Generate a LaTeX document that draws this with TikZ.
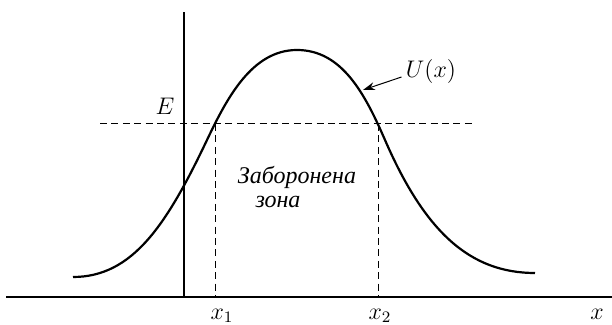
\documentclass[tikz,border=0pt]{standalone}
\usepackage{fontspec}
\newfontfamily\cyrfont{Liberation Serif}
\usetikzlibrary{arrows.meta}
\begin{document}
\begin{tikzpicture}[x=0.5pt,y=-0.5pt,
  axisline/.style={line width=0.6pt},
  guide/.style={line width=0.5pt,dash pattern=on 3.5pt off 2.2pt},
  curveline/.style={line width=1.1pt},
  lbl/.style={font=\large, inner sep=0pt},
  zone/.style={font=\large\cyrfont\itshape, inner sep=0pt}]
\useasboundingbox (0,0) rectangle (612,325);
% axes
\coordinate (xl) at (6,297);
\coordinate (xr) at (612,297);
\coordinate (yb) at (184,297);
\coordinate (yt) at (184,12);
\draw[axisline] (xl) -- (xr);
\draw[axisline] (yb) -- (yt);
% energy level
\coordinate (el) at (100,124);
\coordinate (er) at (472,124);
\coordinate (p1) at (215,124);
\coordinate (p2) at (378,124);
\coordinate (q1) at (215,297);
\coordinate (q2) at (378,297);
\draw[guide] (el) -- (er);
\draw[guide] (p1) -- (q1);
\draw[guide] (p2) -- (q2);
% potential curve
\coordinate (c0) at (73,277);
\coordinate (c1) at (207,140);
\coordinate (c2) at (297,50);
\coordinate (c3) at (385,140);
\coordinate (c4) at (535,273);
\draw[curveline] (c0) .. controls (133,277) and (167,224) .. (c1)
  .. controls (227,98) and (252,50) .. (c2)
  .. controls (342,50) and (365,94) .. (c3)
  .. controls (425,232) and (470,273) .. (c4);
% labels
\node[lbl] (E) at (165,106) {$E$};
\node[lbl] (U) at (431,72) {$U(x)$};
\coordinate (ut) at (363,90);
\draw[line width=0.5pt,-{Stealth[length=6pt,width=4pt]}] (U.west) ++(-4,5) -- (ut);
\node[lbl] (x1) at (222,316) {$x_1$};
\node[lbl] (x2) at (380,316) {$x_2$};
\node[lbl] (xx) at (597,314) {$x$};
\node[zone] (z1) at (297,177) {Заборонена};
\node[zone] (z2) at (278,202) {зона};
\end{tikzpicture}
\end{document}
